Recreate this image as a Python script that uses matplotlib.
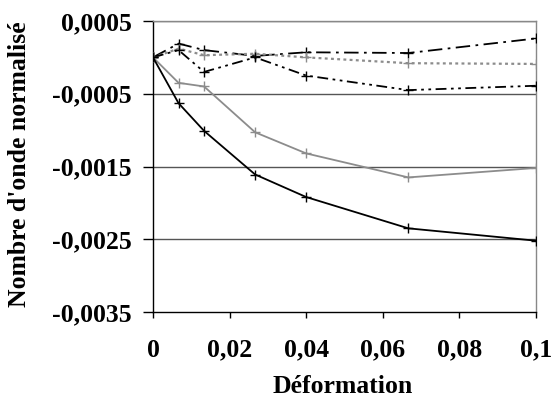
import matplotlib
matplotlib.use("Agg")
import matplotlib.pyplot as plt
from matplotlib.ticker import FuncFormatter

x = [0, 0.00667, 0.01333, 0.02667, 0.04, 0.06667, 0.1]
s_black = [0, -0.00063, -0.00101, -0.00161, -0.00192, -0.00235, -0.00252]
s_gray = [0, -0.00035, -0.00040, -0.00103, -0.00132, -0.00165, -0.00152]
s_dashdot = [0, 0.00019, 0.00010, 0.00002, 0.00007, 0.00006, 0.00026]
s_dotted = [0, 0.00012, 0.00003, 0.00005, 0.00000, -0.00008, -0.00009]
s_dashdotdot = [0, 0.00010, -0.00020, 0.00000, -0.00025, -0.00045, -0.00039]

xticks = [0, 0.02, 0.04, 0.06, 0.08, 0.1]
yticks = [-0.0035, -0.0025, -0.0015, -0.0005, 0.0005]

W, H = 553, 407
fig = plt.figure(figsize=(W / 100, H / 100), dpi=100)
ax = fig.add_axes([153 / W, 1 - 312 / H, (536 - 153) / W, (312 - 21) / H])

FAM = "Liberation Serif"
FS = 18.5

for yv in [-0.0025, -0.0015, -0.0005, 0.0005]:
    ax.axhline(yv, color="#555555", lw=1.0, zorder=1)

ms = 6.5
ax.plot(x, s_black, color="black", lw=1.3, marker="+", ms=ms, mew=1.0, zorder=5)
ax.plot(x, s_gray, color="#8c8c8c", lw=1.3, marker="+", ms=ms, mew=1.0, zorder=4)
ax.plot(x, s_dashdot, color="black", lw=1.3, marker="+", ms=ms, mew=1.0,
        dashes=(8, 3, 1.5, 3), zorder=3)
ax.plot(x, s_dotted, color="#8c8c8c", lw=1.6, marker="+", ms=ms, mew=1.0,
        dashes=(1.3, 1.5), zorder=3)
ax.plot(x, s_dashdotdot, color="black", lw=1.3, marker="+", ms=ms, mew=1.0,
        dashes=(6, 2.5, 1.5, 2.5, 1.5, 2.5), zorder=3)

ax.set_xlim(0, 0.1)
ax.set_ylim(-0.0035, 0.0005)
ax.set_xticks(xticks)
ax.set_yticks(yticks)

def fmt(v, pos):
    s = ("%.4f" % v).rstrip("0").rstrip(".")
    if s in ("-0", ""):
        s = "0"
    return s.replace(".", ",")

ax.xaxis.set_major_formatter(FuncFormatter(fmt))
ax.yaxis.set_major_formatter(FuncFormatter(fmt))

for sp in ["top", "right"]:
    ax.spines[sp].set_color("#888888")
    ax.spines[sp].set_linewidth(1.0)
ax.spines["left"].set_color("black")
ax.spines["bottom"].set_color("black")
ax.spines["left"].set_linewidth(1.0)
ax.spines["bottom"].set_linewidth(1.0)

ax.tick_params(axis="y", direction="out", length=7.2, width=1, pad=8)
ax.tick_params(axis="x", direction="out", length=4.3, width=1, pad=15)
for lab in ax.get_xticklabels() + ax.get_yticklabels():
    lab.set_fontfamily(FAM)
    lab.set_fontweight("bold")
    lab.set_fontsize(FS)

fig.text(343 / W, 1 - 393 / H, "Déformation", ha="center", va="baseline",
         fontsize=FS, family=FAM, weight="bold")
fig.text(20 / W, 1 - 164 / H, "Nombre d'onde normalisé", ha="center",
         va="center", rotation=90, fontsize=FS, family=FAM, weight="bold")

fig.savefig("out.png", dpi=100)
